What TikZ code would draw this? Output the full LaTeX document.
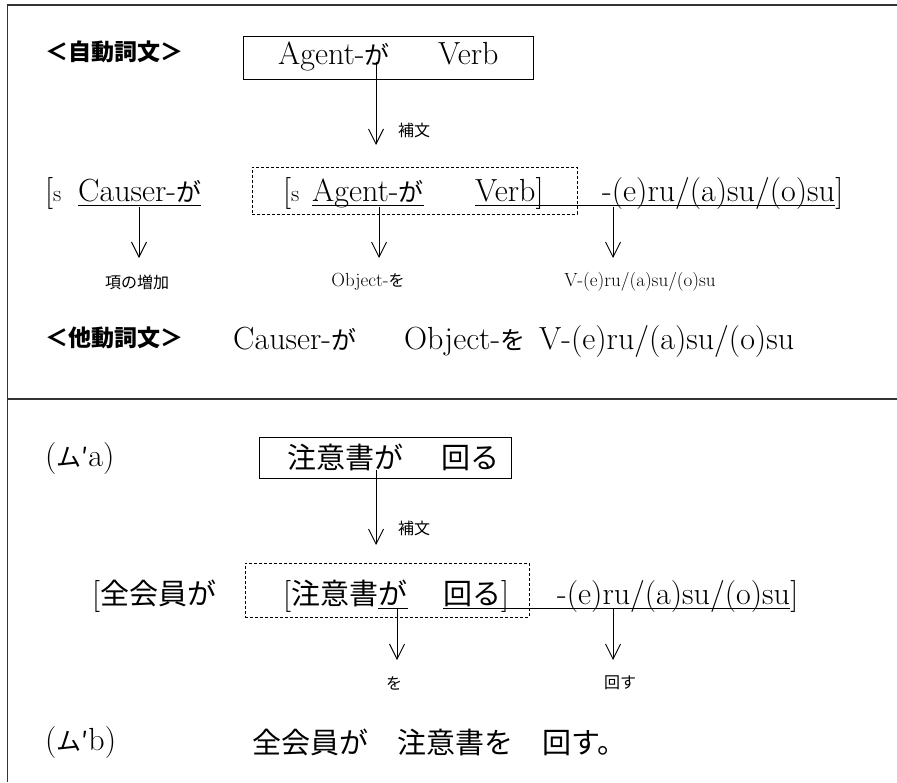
\documentclass[tikz,border=0pt]{standalone}
\usepackage{fontspec}
\newfontfamily\jp{Noto Sans CJK JP}
\usetikzlibrary{arrows.meta}
\newcommand\jpt[1]{{\jp\fontsize{25}{30}\selectfont #1}}
\newcommand\jpb[1]{{\jp\fontsize{29}{32}\selectfont #1}}
\newcommand\subs{{\fontsize{23}{24}\selectfont s}}
\tikzset{
  txt/.style={inner sep=0pt, anchor=base west, font=\fontsize{32}{36}\selectfont},
  jtxt/.style={inner sep=0pt, anchor=base west, font=\jp\fontsize{29}{32}\selectfont},
  head/.style={inner sep=0pt, anchor=west, font=\jp\bfseries\fontsize{23}{26}\selectfont},
  lbl/.style={inner sep=0pt, anchor=center, font=\fontsize{19}{22}\selectfont},
  jlbl/.style={inner sep=0pt, anchor=center, font=\jp\fontsize{16}{20}\selectfont},
  arr/.style={-{Straight Barb[length=15pt,width=15pt]}, line width=0.9pt},
  uline/.style={line width=0.9pt},
  frame/.style={line width=1.3pt, draw=black!80},
  solidbox/.style={draw, line width=1pt, inner sep=0pt},
  dbox/.style={draw, dash pattern=on 3pt off 2pt, line width=0.9pt, inner sep=0pt},
}
\begin{document}
\begin{tikzpicture}[x=1pt,y=-1pt]
\useasboundingbox (0,0) rectangle (897,782);
% frame
\draw[frame] (897,5) -- (7.5,5) -- (7.5,782);
\draw[frame] (7.5,399) -- (897,399);

% ===== upper part =====
\node[head] (h1) at (45,52) {＜自動詞文＞};
\node[solidbox, minimum width=290, minimum height=43] (box1) at (388,57.5) {};
\node[txt] (ag1) at (278,64) {Agent-\jpt{が}};
\node[txt] (vb1) at (438,64) {Verb};
\coordinate (a1s) at (376,62);
\coordinate (a1e) at (376,145);
\draw[arr] (a1s) -- (a1e);
\node[jlbl, anchor=west] (hb1) at (398,130) {補文};

\node[dbox, minimum width=325, minimum height=47] (db1) at (414.5,190.5) {};
\node[txt] (br1) at (45,201) {[\subs};
\node[txt] (cau) at (78,201) {Causer-\jpt{が}};
\node[txt] (br2) at (283,201) {[\subs};
\node[txt] (ag2) at (312,201) {Agent-\jpt{が}};
\node[txt] (vb2) at (475,201) {Verb]};
\node[txt] (sf1) at (602,201) {-(e)ru/(a)su/(o)su};
\node[txt] (br3) at (sf1.base east) {]};
\draw[uline] ([yshift=-4pt]cau.base west) -- ([yshift=-4pt]cau.base east);
\draw[uline] ([yshift=-4pt]ag2.base west) -- ([yshift=-4pt]ag2.base east);
\draw[uline] ([yshift=-4pt]vb2.base west) -- ([yshift=-4pt]sf1.base east);

\coordinate (a2s) at (139,207);
\coordinate (a2e) at (139,258);
\coordinate (a3s) at (379,207);
\coordinate (a3e) at (379,258);
\coordinate (a4s) at (613,207);
\coordinate (a4e) at (613,258);
\draw[arr] (a2s) -- (a2e);
\draw[arr] (a3s) -- (a3e);
\draw[arr] (a4s) -- (a4e);
\node[jlbl] (l2) at (137,282) {項の増加};
\node[lbl] (l3) at (368,282) {Object-{\jp\fontsize{16}{20}\selectfont を}};
\node[lbl] (l4) at (640,282) {V-(e)ru/(a)su/(o)su};

\node[head] (h2) at (45,338) {＜他動詞文＞};
\node[txt] (c3) at (233,349) {Causer-\jpt{が}};
\node[txt] (o3) at (404,349) {Object-\jpt{を}};
\node[txt] (v3) at (539,349) {V-(e)ru/(a)su/(o)su};

% ===== lower part =====
\node[txt] (ma) at (45,466) {(\jpt{ム′}a)};
\node[solidbox, minimum width=252, minimum height=41] (box2) at (385,457.5) {};
\node[jtxt] (t1) at (287,468) {注意書が};
\node[jtxt] (t2) at (441,468) {回る};
\coordinate (b1s) at (376,470);
\coordinate (b1e) at (376,545);
\draw[arr] (b1s) -- (b1e);
\node[jlbl, anchor=west] (hb2) at (398,528) {補文};

\node[dbox, minimum width=284, minimum height=54] (db2) at (387,590) {};
\node[txt] (zb) at (92,604) {[\jpb{全会員が}};
\node[txt] (cb) at (283,604) {[\jpb{注意書}};
\node[jtxt] (ga) at (cb.base east) {が};
\node[txt] (mw) at (443,604) {\jpb{回る}]};
\node[txt] (sf2) at (557,604) {-(e)ru/(a)su/(o)su};
\node[txt] (br4) at (sf2.base east) {]};
\draw[uline] ([yshift=-4pt]ga.base west) -- ([yshift=-4pt]ga.base east);
\draw[uline] ([yshift=-4pt]mw.base west) -- ([yshift=-4pt]sf2.base east);

\coordinate (b2s) at (397,609);
\coordinate (b2e) at (397,660);
\coordinate (b3s) at (613,609);
\coordinate (b3e) at (613,660);
\draw[arr] (b2s) -- (b2e);
\draw[arr] (b3s) -- (b3e);
\node[jlbl] (lw) at (394,683) {を};
\node[jlbl] (lm) at (620,683) {回す};

\node[txt] (mb) at (45,750) {(\jpt{ム′}b)};
\node[jtxt, anchor=west] (fin) at (252,742) {全会員が　注意書を　回す。};
\end{tikzpicture}
\end{document}
